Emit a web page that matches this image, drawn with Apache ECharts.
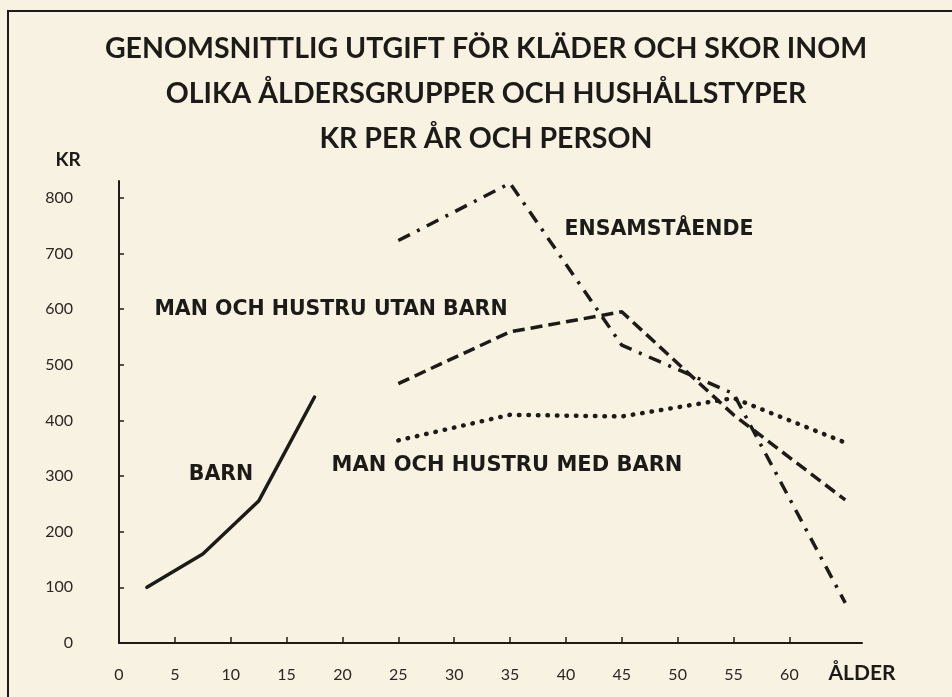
<!DOCTYPE html>
<html>
<head>
<meta charset="utf-8">
<script src="https://cdn.jsdelivr.net/npm/echarts@6/dist/echarts.min.js"></script>
<style>
  html, body { margin: 0; padding: 0; background: #f8f2e2; }
  #chart { width: 952px; height: 697px; }
</style>
</head>
<body>
<div id="chart"></div>
<script>
// ålder (mittpunkt i åldersgruppen)
const barnAge = [2.5, 7.5, 12.5, 17.5]
const vuxenAge = [25, 35, 45, 55, 65]
// kr per år och person
const barn = [100, 160, 255, 442]
const ensamstaende = [723, 826, 535, 448, 72]
const utanBarn = [466, 559, 595, 410, 257]
const medBarn = [364, 410, 407, 440, 360]
// axlar
const xTicks = [0, 5, 10, 15, 20, 25, 30, 35, 40, 45, 50, 55, 60]
const yTicks = [0, 100, 200, 300, 400, 500, 600, 700, 800]

const ink = '#1d1b18'
const font = 'Lato'
const labelFont = '"DejaVu Sans"'

const pairs = (xs, ys) => xs.map((x, i) => [x, ys[i]])

const label = (text, x, y, size, family) => ({
  type: 'text',
  x: x,
  y: y,
  style: {
    text: text,
    fill: ink,
    font: `bold ${size}px ${family}`,
    align: 'center',
    verticalAlign: 'middle'
  }
})

const lineSeries = (name, data, width, type, cap) => ({
  name: name,
  type: 'line',
  data: data,
  symbol: 'none',
  silent: true,
  lineStyle: { color: ink, width: width, type: type, cap: cap }
})

var myChart = echarts.init(document.querySelector('#chart'))
option = {
  backgroundColor: '#f8f2e2',
  animation: false,
  title: {
    text: 'GENOMSNITTLIG UTGIFT FÖR KLÄDER OCH SKOR INOM\nOLIKA ÅLDERSGRUPPER OCH HUSHÅLLSTYPER\nKR PER ÅR OCH PERSON',
    left: 481,
    top: 21,
    textAlign: 'center',
    textStyle: {
      fontFamily: font,
      fontWeight: 'bold',
      fontSize: 28.5,
      lineHeight: 45,
      color: ink
    }
  },
  grid: { left: 119, right: 90, top: 181, bottom: 54 },
  xAxis: {
    type: 'value',
    min: 0,
    max: 66.5,
    axisLine: { lineStyle: { color: ink, width: 2 } },
    axisTick: { inside: true, length: 6, customValues: xTicks, lineStyle: { color: ink, width: 1.5 } },
    axisLabel: { customValues: xTicks, margin: 24, fontFamily: font, fontSize: 16, color: '#2a2724' },
    splitLine: { show: false }
  },
  yAxis: {
    type: 'value',
    min: 0,
    max: 830,
    axisLine: { show: true, lineStyle: { color: ink, width: 2 } },
    axisTick: { show: true, inside: true, length: 5, customValues: yTicks, lineStyle: { color: ink, width: 1.5 } },
    axisLabel: { customValues: yTicks, margin: 46, fontFamily: font, fontSize: 16, color: '#2a2724' },
    splitLine: { show: false }
  },
  series: [
    lineSeries('BARN', pairs(barnAge, barn), 3.5, 'solid', 'round'),
    lineSeries('ENSAMSTÅENDE', pairs(vuxenAge, ensamstaende), 3.5, [13, 8, 3, 8], 'butt'),
    lineSeries('MAN OCH HUSTRU UTAN BARN', pairs(vuxenAge, utanBarn), 3.5, [12, 6], 'butt'),
    lineSeries('MAN OCH HUSTRU MED BARN', pairs(vuxenAge, medBarn), 4.5, [0.5, 9], 'round')
  ],
  graphic: [
    // sidans ram
    {
      type: 'polyline',
      shape: { points: [[8, 697], [8, 11], [952, 11]] },
      style: { stroke: ink, lineWidth: 2, fill: null }
    },
    label('KR', 68, 160, 19, font),
    label('ÅLDER', 862, 673, 21, font),
    label('ENSAMSTÅENDE', 659, 230, 20.5, labelFont),
    label('MAN OCH HUSTRU UTAN BARN', 331, 310, 20.5, labelFont),
    label('MAN OCH HUSTRU MED BARN', 507, 466, 21, labelFont),
    label('BARN', 221, 475, 20.5, labelFont)
  ]
}
myChart.setOption(option)
</script>
</body>
</html>
